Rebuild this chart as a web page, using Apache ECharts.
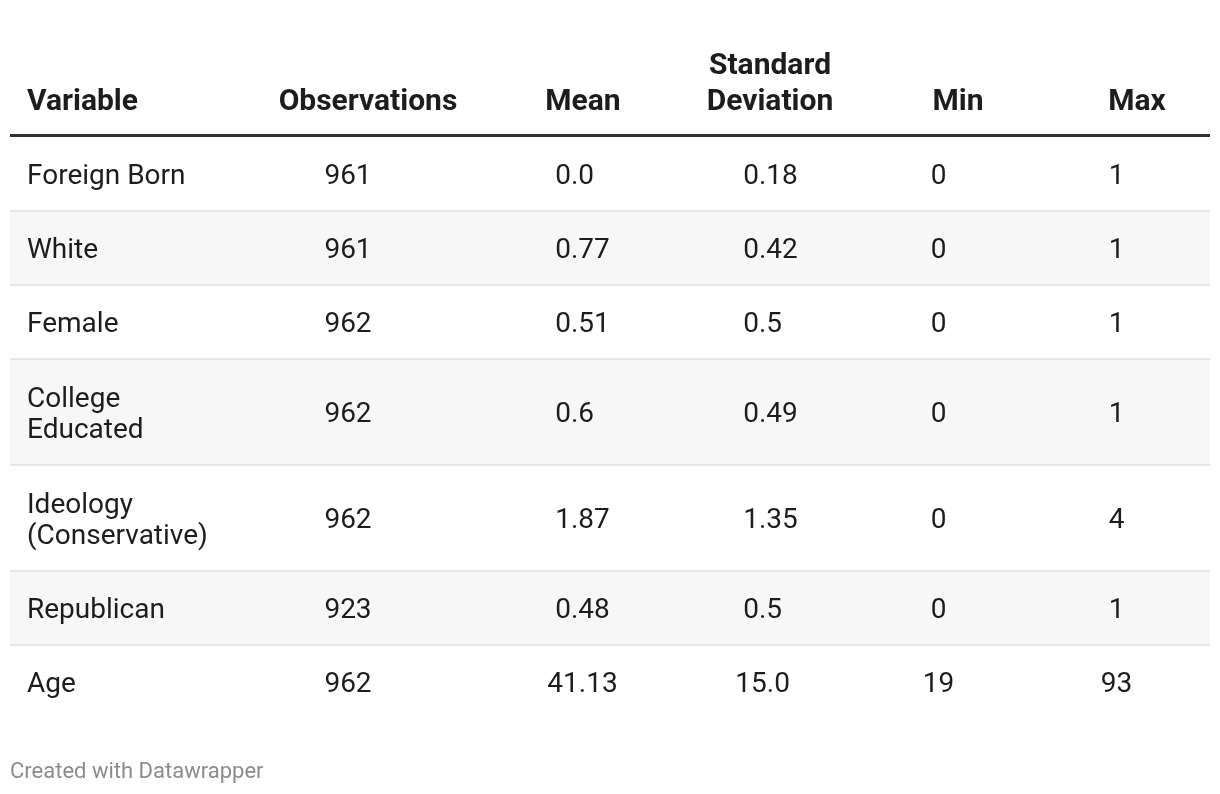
<!DOCTYPE html>
<html>
<head>
<meta charset="utf-8">
<script src="https://cdn.jsdelivr.net/npm/echarts@6/dist/echarts.min.js"></script>
<style>
  html, body { margin: 0; padding: 0; background: #ffffff; }
  #chart { width: 1220px; height: 794px; }
</style>
</head>
<body>
<div id="chart"></div>
<script>
// ---- Data ----
const columns = ['Variable', 'Observations', 'Mean', 'Standard\nDeviation', 'Min', 'Max'];
const variables = ['Foreign Born', 'White', 'Female', 'College\nEducated', 'Ideology\n(Conservative)', 'Republican', 'Age'];
const observations = [961, 961, 962, 962, 962, 923, 962];
const means = ['0.0', '0.77', '0.51', '0.6', '1.87', '0.48', '41.13'];
const stdDevs = ['0.18', '0.42', '0.5', '0.49', '1.35', '0.5', '15.0'];
const mins = [0, 0, 0, 0, 0, 0, 19];
const maxs = [1, 1, 1, 1, 4, 1, 93];
const footer = 'Created with Datawrapper';

// ---- Layout (not data) ----
const FONT = 'Roboto, "Noto Sans", sans-serif';
const BODY_SIZE = 28;
const HEAD_SIZE = 30;
const TEXT_COLOR = '#1d1d1d';
const X_MAX = 1200;
const HEADER_H = 97;
const RULE_H = 3;
const ROW_BASE = 74;
const LINE_H = 32;
const TEXT_NUDGE = 3;
const colLayout = [
  { vx: 17, va: 'left', hx: 17, ha: 'left' },
  { vx: 338, va: 'center', hx: 358, ha: 'center' },
  { vx: 572.5, va: 'center', hx: 573, ha: 'center' },
  { vx: 760.5, va: 'center', hx: 760, ha: 'center' },
  { vx: 928.5, va: 'center', hx: 948, ha: 'center' },
  { vx: 1106.5, va: 'center', hx: 1127, ha: 'center' }
];

const cellColumns = [
  variables,
  observations.map(String),
  means,
  stdDevs,
  mins.map(String),
  maxs.map(String)
];
function decimals(s) { const p = String(s).split('.'); return p.length > 1 ? p[1].length : -1; }
const maxDec = cellColumns.map((col, c) => c === 0 ? 0 : Math.max.apply(null, col.map(decimals)));

// Build rows: [start, end, rowIndex]
const rows = [[0, HEADER_H, -1]];
let acc = HEADER_H;
variables.forEach((v, i) => {
  const lines = v.split('\n').length;
  const h = ROW_BASE + (lines - 1) * LINE_H;
  rows.push([acc, acc + h, i]);
  acc += h;
});
const TOTAL = acc;

function cellText(c, r) {
  const s = cellColumns[c][r];
  if (c === 0) return { text: s, rich: false };
  const d = decimals(s);
  let pad = '';
  if (maxDec[c] > 0) {
    if (d < 0) pad = '.' + '0'.repeat(maxDec[c]);
    else pad = '0'.repeat(maxDec[c] - d);
  }
  if (!pad) return { text: s, rich: false };
  return { text: '{v|' + s + '}{p|' + pad + '}', rich: true };
}

function renderItem(params, api) {
  const start = api.value(0), end = api.value(1), r = api.value(2);
  const tl = api.coord([0, start]);
  const br = api.coord([X_MAX, end]);
  const children = [];
  const font = BODY_SIZE + 'px ' + FONT;
  const boldFont = 'bold ' + HEAD_SIZE + 'px ' + FONT;
  if (r < 0) {
    const ruleTop = api.coord([0, end - RULE_H])[1];
    children.push({ type: 'rect', shape: { x: tl[0], y: ruleTop, width: br[0] - tl[0], height: br[1] - ruleTop }, style: { fill: '#333333' } });
    const textBottom = api.coord([0, end - 17])[1];
    columns.forEach((h, c) => {
      children.push({
        type: 'text',
        style: {
          text: h, x: api.coord([colLayout[c].hx, 0])[0], y: textBottom,
          font: boldFont, fill: TEXT_COLOR, align: colLayout[c].ha, verticalAlign: 'bottom', lineHeight: 36
        }
      });
    });
  } else {
    if (r % 2 === 1) {
      children.push({ type: 'rect', shape: { x: tl[0], y: tl[1], width: br[0] - tl[0], height: br[1] - tl[1] }, style: { fill: '#f7f7f7' } });
    }
    if (r > 0) {
      children.push({ type: 'rect', shape: { x: tl[0], y: tl[1] - 1, width: br[0] - tl[0], height: 2 }, style: { fill: '#e6e6e6' } });
    }
    const mid = api.coord([0, (start + end) / 2])[1] + TEXT_NUDGE;
    for (let c = 0; c < columns.length; c++) {
      const t = cellText(c, r);
      const style = {
        text: t.text, x: api.coord([colLayout[c].vx, 0])[0], y: mid,
        font: font, fill: TEXT_COLOR, align: colLayout[c].va, verticalAlign: 'middle', lineHeight: 31
      };
      if (t.rich) {
        style.rich = {
          v: { font: font, fill: TEXT_COLOR },
          p: { font: font, fill: 'rgba(0,0,0,0)' }
        };
      }
      children.push({ type: 'text', style: style });
    }
  }
  return { type: 'group', children: children };
}

const chart = echarts.init(document.getElementById('chart'), null, { renderer: 'canvas' });
chart.setOption({
  animation: false,
  backgroundColor: '#ffffff',
  title: {
    text: footer, left: 10, top: 761, padding: 0,
    textStyle: { fontFamily: FONT, fontSize: 22, fontWeight: 'normal', color: '#8c8c8c' }
  },
  grid: { left: 10, right: 10, top: 40, height: TOTAL },
  xAxis: { type: 'value', min: 0, max: X_MAX, show: false },
  yAxis: { type: 'value', min: 0, max: TOTAL, inverse: true, show: false },
  series: [{
    type: 'custom',
    renderItem: renderItem,
    data: rows,
    encode: { x: [], y: [0, 1] },
    clip: false
  }]
});
</script>
</body>
</html>
